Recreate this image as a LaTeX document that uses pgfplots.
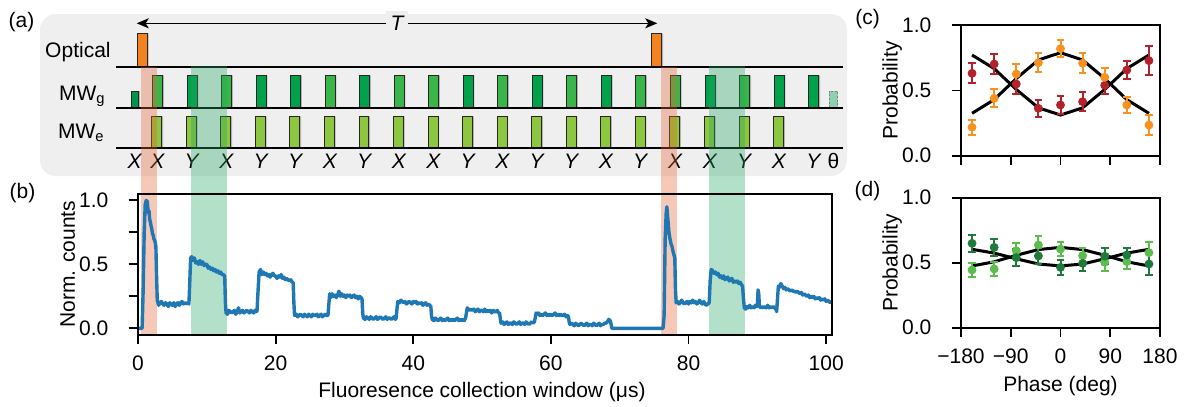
\documentclass[border=0pt]{standalone}
\usepackage{pgfplots}
\pgfplotsset{compat=1.18}
\usepackage{fontspec}
\setmainfont{Liberation Sans}
\usetikzlibrary{arrows.meta}
\definecolor{bgbox}{RGB}{239,239,239}
\definecolor{optorange}{HTML}{F58220}
\definecolor{mwdark}{HTML}{00A14B}
\definecolor{mwmed}{HTML}{3AB54A}
\definecolor{mwshort}{HTML}{00964A}
\definecolor{mwe}{HTML}{8DC63F}
\definecolor{thetafill}{HTML}{8FD0B0}
\definecolor{bandred}{RGB}{229,98,49}
\definecolor{bandgreen}{RGB}{38,166,98}
\definecolor{tabblue}{HTML}{1F77B4}
\definecolor{cred}{HTML}{B3222A}
\definecolor{corange}{HTML}{F7921E}
\definecolor{ddark}{HTML}{1E7B3C}
\definecolor{dlight}{HTML}{5BBD4B}
\newcommand\fs{\fontsize{10.5}{12.5}\selectfont}
\pgfplotsset{
  every axis/.append style={font=\fs},
  /pgf/number format/assume math mode=true,
  mainax/.style={scale only axis, anchor=south west,
    axis line style={line width=0.9pt},
    tick align=outside, tick pos=left, major tick length=4.65pt,
    tick style={black, line width=0.9pt},
    xticklabel style={anchor=base, yshift=-13.05pt},
    yticklabel style={anchor=east, inner sep=0pt, xshift=-10pt},
  },
  rowax/.style={scale only axis, anchor=south west, width=346.85pt, height=20pt,
    xmin=0, xmax=100.8, ymin=0, ymax=40, clip=false},
  ebar/.style={only marks, mark=*, mark size=2pt,
    error bars/.cd, y dir=both, y explicit, error bar style={line width=1pt},
    error mark=-, error mark options={rotate=90, line width=1pt, mark size=1.9pt}},
}
\begin{document}
\begin{tikzpicture}
\useasboundingbox (0,0) rectangle (592.5pt,-203.5pt);
% grey background of panel (a)
\fill[bgbox, rounded corners=8pt] (20pt,-7pt) rectangle (423.5pt,-88pt);
% period arrow
\draw[line width=0.6pt, {Stealth[length=6pt,width=5pt,inset=1.5pt]}-{Stealth[length=6pt,width=5pt,inset=1.5pt]}] (68.35pt,-11.65pt) -- (328.65pt,-11.65pt);
\node[fill=bgbox, inner sep=2.5pt, font=\fs\itshape] at (198.5pt,-11.65pt) {T};
% row labels
\node[anchor=base east, inner sep=0pt, font=\fs] at (55.5pt,-28.65pt) {Optical};
\node[anchor=base east, inner sep=0pt, font=\fs] at (53pt,-50pt) {MW\textsubscript{g}};
\node[anchor=base east, inner sep=0pt, font=\fs] at (52.5pt,-69.15pt) {MW\textsubscript{e}};
% panel labels
\node[font=\fs] at (10.75pt,-11.25pt) {(a)};
\node[font=\fs] at (11.25pt,-96.5pt) {(b)};
\node[font=\fs] at (433.75pt,-9.5pt) {(c)};
\node[font=\fs] at (433.75pt,-95.5pt) {(d)};
% axis titles
\node[anchor=base, inner sep=0pt, font=\fs] at (241pt,-198.85pt) {Fluoresence collection window (μs)};
\node[anchor=base, inner sep=0pt, rotate=90, font=\fs] at (37.5pt,-132.1pt) {Norm. counts};
\node[anchor=base, inner sep=0pt, rotate=90, font=\fs] at (448.75pt,-45.25pt) {Probability};
\node[anchor=base, inner sep=0pt, rotate=90, font=\fs] at (448.75pt,-131.35pt) {Probability};
\node[anchor=base, inner sep=0pt, font=\fs] at (530.25pt,-195.85pt) {Phase (deg)};

% ---------- Optical row
\begin{axis}[rowax, hide axis, at={(69pt,-33.35pt)}]
\addplot[ybar, bar shift=0.6pt, bar width=1.5, fill=black, fill opacity=0.25, draw=none] coordinates {(0.61,33) (75.39,33)};
\addplot[ybar, bar shift=0pt, bar width=1.5, fill=optorange, draw=black!85, line width=0.5pt] coordinates {(0.61,33) (75.39,33)};
\addplot[black, line width=1pt] coordinates {(-3.2,0) (102.47,0)};
\end{axis}

% ---------- MW_g row
\begin{axis}[rowax, hide axis, at={(69pt,-53.85pt)}]
\addplot[ybar, bar shift=0.6pt, bar width=1.45, fill=black, fill opacity=0.25, draw=none] coordinates {
(2.85,32.4) (7.87,32.4) (12.88,32.4) (17.90,32.4) (22.91,32.4) (27.93,32.4) (32.94,32.4) (37.96,32.4) (42.97,32.4) (47.99,32.4)
(53.00,32.4) (58.02,32.4) (63.03,32.4) (68.05,32.4) (73.06,32.4) (78.08,32.4) (83.15,32.4) (88.18,32.4) (93.18,32.4) (98.22,32.4)};
\addplot[ybar, bar shift=0.6pt, bar width=1.1, fill=black, fill opacity=0.25, draw=none] coordinates {(-0.44,16.7)};
\addplot[ybar, bar shift=0pt, bar width=1.45, fill=mwmed, draw=black!85, line width=0.5pt] coordinates {
(2.85,32.4) (12.88,32.4) (27.93,32.4) (37.96,32.4) (42.97,32.4) (53.00,32.4) (63.03,32.4) (73.06,32.4) (78.08,32.4) (88.18,32.4)};
\addplot[ybar, bar shift=0pt, bar width=1.45, fill=mwdark, draw=black!85, line width=0.5pt] coordinates {
(7.87,32.4) (17.90,32.4) (22.91,32.4) (32.94,32.4) (47.99,32.4) (58.02,32.4) (68.05,32.4) (83.15,32.4) (93.18,32.4) (98.22,32.4)};
\addplot[ybar, bar shift=0pt, bar width=1.1, fill=mwshort, draw=black!85, line width=0.5pt] coordinates {(-0.44,16.7)};
\addplot[ybar, bar shift=0pt, bar width=1.2, fill=thetafill, draw=gray, dash pattern=on 1pt off 0.8pt, line width=0.5pt] coordinates {(101.05,16.4)};
\addplot[black, line width=1pt] coordinates {(-3.2,0) (102.47,0)};
\end{axis}

% ---------- MW_e row (with pulse-phase labels); same scale, wider range so that all labels show
\begin{axis}[rowax, at={(51.795pt,-74.15pt)}, width=378.51pt, xmin=-5, xmax=105,
  axis x line*=bottom, axis y line=none, axis line style={draw=none},
  tick style={draw=none}, major tick length=0pt, ytick=\empty,
  xtick={-0.44,2.85,7.87,12.88,17.90,22.91,27.93,32.94,37.96,42.97,47.99,53.00,58.02,63.03,68.05,73.06,78.08,83.15,88.18,93.18,98.22,101.05},
  xticklabels={\textit{X},\textit{X},\textit{Y},\textit{X},\textit{Y},\textit{Y},\textit{X},\textit{Y},\textit{X},\textit{X},\textit{Y},\textit{X},\textit{Y},\textit{Y},\textit{X},\textit{Y},\textit{X},\textit{X},\textit{Y},\textit{X},\textit{Y},θ},
  xticklabel style={anchor=base, yshift=-10pt}]
\addplot[ybar, bar shift=0.6pt, bar width=1.45, fill=black, fill opacity=0.25, draw=none] coordinates {
(2.75,32) (7.77,32) (12.78,32) (17.80,32) (22.81,32) (27.83,32) (32.84,32) (37.86,32) (42.87,32) (47.89,32)
(52.90,32) (57.92,32) (62.93,32) (67.95,32) (72.96,32) (77.98,32) (83.05,32) (88.08,32) (93.08,32)};
\addplot[ybar, bar shift=0pt, bar width=1.45, fill=mwe, draw=black!85, line width=0.5pt] coordinates {
(2.75,32) (7.77,32) (12.78,32) (17.80,32) (22.81,32) (27.83,32) (32.84,32) (37.86,32) (42.87,32) (47.89,32)
(52.90,32) (57.92,32) (62.93,32) (67.95,32) (72.96,32) (77.98,32) (83.05,32) (88.08,32) (93.08,32)};
\addplot[black, line width=1pt] coordinates {(-3.2,0) (102.47,0)};
\end{axis}

% ---------- panel (b)
\begin{axis}[mainax, at={(69pt,-167.35pt)}, width=346.85pt, height=70.35pt,
  xmin=0, xmax=100.8, ymin=-0.05, ymax=1.05, clip=false, axis on top,
  xtick={0,20,40,60,80,100}, ytick={0,0.25,0.5,0.75,1}, yticklabels={0.0,,0.5,,1.0}]
\addplot[fill=bandred, fill opacity=0.35, draw=none] coordinates {(0.48,-0.05) (2.72,-0.05) (2.72,2.045) (0.48,2.045)} -- cycle;
\addplot[fill=bandred, fill opacity=0.35, draw=none] coordinates {(76.0,-0.05) (78.3,-0.05) (78.3,2.045) (76.0,2.045)} -- cycle;
\addplot[fill=bandgreen, fill opacity=0.35, draw=none] coordinates {(7.7,-0.05) (12.9,-0.05) (12.9,2.053) (7.7,2.053)} -- cycle;
\addplot[fill=bandgreen, fill opacity=0.35, draw=none] coordinates {(83.0,-0.05) (88.2,-0.05) (88.2,2.053) (83.0,2.053)} -- cycle;
\addplot[tabblue, line width=1.7pt, line join=round] coordinates {
(0,0) (0.6,0) (0.75,0.3) (0.9,0.75) (1.05,0.97) (1.2,1.0) (1.35,0.99) (1.5,0.9) (1.6,0.92) (1.7,0.85) (1.8,0.83) (1.9,0.8) (2.0,0.78) (2.1,0.74) (2.2,0.73) (2.3,0.7) (2.4,0.69) (2.5,0.67) (2.6,0.64) (2.7,0.4) (2.8,0.22)
(3.0,0.18) (3.2,0.2) (3.4,0.21) (3.6,0.19) (3.8,0.18) (4.0,0.2) (4.2,0.19) (4.4,0.17) (4.6,0.2) (4.8,0.19) (5.0,0.18) (5.2,0.2) (5.4,0.17) (5.6,0.19) (5.8,0.2) (6.0,0.18) (6.2,0.2) (6.4,0.21) (6.6,0.19) (6.8,0.2) (7.0,0.19) (7.2,0.2) (7.4,0.19)
(7.55,0.4) (7.65,0.55) (7.8,0.56) (8.0,0.53) (8.2,0.55) (8.4,0.51) (8.6,0.52) (8.8,0.5) (9.0,0.53) (9.2,0.5) (9.4,0.52) (9.6,0.49) (9.8,0.5) (10.0,0.5) (10.2,0.47) (10.4,0.48) (10.6,0.46) (10.8,0.47) (11.0,0.45) (11.2,0.46) (11.4,0.44) (11.6,0.45) (11.8,0.43) (12.0,0.44) (12.2,0.42) (12.4,0.42) (12.6,0.41) (12.7,0.2) (12.8,0.12)
(13.0,0.11) (13.2,0.14) (13.4,0.13) (13.6,0.12) (13.8,0.13) (14.0,0.14) (14.2,0.11) (14.4,0.13) (14.6,0.16) (14.8,0.12) (15.0,0.13) (15.2,0.14) (15.4,0.12) (15.6,0.13) (15.8,0.14) (16.0,0.13) (16.2,0.12) (16.4,0.14) (16.6,0.13) (16.8,0.12) (17.0,0.14) (17.2,0.13) (17.3,0.14)
(17.45,0.3) (17.6,0.44) (17.8,0.46) (18.0,0.42) (18.2,0.44) (18.4,0.42) (18.6,0.43) (18.8,0.41) (19.0,0.42) (19.2,0.4) (19.4,0.42) (19.6,0.43) (19.8,0.41) (20.0,0.41) (20.2,0.39) (20.4,0.41) (20.6,0.4) (20.8,0.42) (21.0,0.39) (21.2,0.4) (21.4,0.38) (21.6,0.39) (21.8,0.38) (22.0,0.37) (22.2,0.38) (22.4,0.36) (22.55,0.36) (22.65,0.2) (22.75,0.1)
(23.0,0.11) (23.2,0.09) (23.4,0.1) (23.6,0.11) (23.8,0.1) (24.0,0.09) (24.2,0.11) (24.4,0.1) (24.6,0.09) (24.8,0.11) (25.0,0.1) (25.2,0.09) (25.4,0.11) (25.6,0.1) (25.8,0.1) (26.0,0.11) (26.2,0.09) (26.4,0.1) (26.6,0.11) (26.8,0.09) (27.0,0.1) (27.2,0.11) (27.4,0.1) (27.6,0.1)
(27.75,0.2) (27.85,0.27) (28.0,0.24) (28.2,0.27) (28.4,0.25) (28.6,0.26) (28.8,0.24) (29.0,0.26) (29.2,0.29) (29.4,0.25) (29.6,0.27) (29.8,0.25) (30.0,0.26) (30.2,0.24) (30.4,0.26) (30.6,0.25) (30.8,0.26) (31.0,0.24) (31.2,0.25) (31.4,0.26) (31.6,0.24) (31.8,0.25) (32.0,0.23) (32.2,0.25) (32.4,0.24) (32.55,0.23) (32.65,0.12) (32.75,0.08)
(33.0,0.07) (33.2,0.09) (33.4,0.08) (33.6,0.07) (33.8,0.09) (34.0,0.08) (34.2,0.07) (34.4,0.08) (34.6,0.09) (34.8,0.07) (35.0,0.08) (35.2,0.09) (35.4,0.08) (35.6,0.07) (35.8,0.08) (36.0,0.09) (36.2,0.07) (36.4,0.08) (36.6,0.08) (36.8,0.07) (37.0,0.08) (37.2,0.09) (37.4,0.07) (37.5,0.08)
(37.65,0.16) (37.75,0.21) (38.0,0.2) (38.2,0.22) (38.4,0.21) (38.6,0.2) (38.8,0.21) (39.0,0.19) (39.2,0.2) (39.4,0.21) (39.6,0.2) (39.8,0.19) (40.0,0.21) (40.2,0.2) (40.4,0.21) (40.6,0.19) (40.8,0.2) (41.0,0.19) (41.2,0.2) (41.4,0.18) (41.6,0.19) (41.8,0.2) (42.0,0.18) (42.2,0.19) (42.4,0.18) (42.55,0.17) (42.65,0.1) (42.75,0.07)
(43.0,0.06) (43.2,0.08) (43.4,0.07) (43.6,0.06) (43.8,0.07) (44.0,0.08) (44.2,0.06) (44.4,0.07) (44.6,0.06) (44.8,0.07) (45.0,0.08) (45.2,0.06) (45.4,0.07) (45.6,0.06) (45.8,0.07) (46.0,0.06) (46.2,0.07) (46.4,0.08) (46.6,0.06) (46.8,0.07) (47.0,0.06) (47.2,0.07) (47.4,0.06) (47.6,0.08)
(47.75,0.13) (47.85,0.16) (48.0,0.15) (48.2,0.14) (48.4,0.15) (48.6,0.14) (48.8,0.15) (49.0,0.13) (49.2,0.14) (49.4,0.15) (49.6,0.13) (49.8,0.14) (50.0,0.14) (50.2,0.13) (50.4,0.15) (50.6,0.13) (50.8,0.14) (51.0,0.13) (51.2,0.14) (51.4,0.12) (51.6,0.14) (51.8,0.13) (52.0,0.13) (52.2,0.14) (52.4,0.12) (52.55,0.12) (52.65,0.07) (52.75,0.04)
(53.0,0.05) (53.2,0.03) (53.4,0.04) (53.6,0.05) (53.8,0.03) (54.0,0.04) (54.2,0.04) (54.4,0.03) (54.6,0.05) (54.8,0.04) (55.0,0.03) (55.2,0.04) (55.4,0.05) (55.6,0.03) (55.8,0.04) (56.0,0.04) (56.2,0.03) (56.4,0.05) (56.6,0.04) (56.8,0.03) (57.0,0.04) (57.2,0.05) (57.4,0.04) (57.6,0.05)
(57.75,0.09) (57.85,0.12) (58.0,0.11) (58.2,0.12) (58.4,0.1) (58.6,0.11) (58.8,0.1) (59.0,0.11) (59.2,0.12) (59.4,0.1) (59.6,0.11) (59.8,0.1) (60.0,0.11) (60.2,0.1) (60.4,0.11) (60.6,0.12) (60.8,0.1) (61.0,0.11) (61.2,0.1) (61.4,0.11) (61.6,0.1) (61.8,0.1) (62.0,0.11) (62.2,0.09) (62.4,0.1) (62.55,0.09) (62.65,0.05) (62.75,0.03)
(63.0,0.04) (63.2,0.03) (63.4,0.02) (63.6,0.04) (63.8,0.03) (64.0,0.02) (64.2,0.03) (64.4,0.04) (64.6,0.03) (64.8,0.02) (65.0,0.03) (65.2,0.04) (65.4,0.02) (65.6,0.03) (65.8,0.03) (66.0,0.02) (66.2,0.04) (66.4,0.03) (66.6,0.02) (66.8,0.03) (67.0,0.04) (67.2,0.02) (67.4,0.03) (67.6,0.03) (67.8,0.04) (68.0,0.04) (68.2,0.05) (68.4,0.07) (68.6,0.06) (68.75,0.03) (68.85,0.0)
(69.0,0.0) (76.3,0.0)
(76.45,0.1) (76.6,0.7) (76.75,0.9) (76.85,0.95) (76.95,0.88) (77.05,0.82) (77.15,0.75) (77.3,0.7) (77.45,0.66) (77.6,0.64) (77.75,0.6) (77.9,0.57) (78.0,0.55) (78.1,0.3) (78.2,0.2)
(78.4,0.21) (78.6,0.19) (78.8,0.2) (79.0,0.22) (79.2,0.2) (79.4,0.19) (79.6,0.2) (79.8,0.21) (80.0,0.19) (80.2,0.21) (80.4,0.2) (80.6,0.22) (80.8,0.2) (81.0,0.21) (81.2,0.19) (81.4,0.2) (81.6,0.22) (81.8,0.2) (82.0,0.19) (82.2,0.21) (82.4,0.19) (82.6,0.18) (82.8,0.19) (83.0,0.2)
(83.15,0.38) (83.3,0.46) (83.5,0.45) (83.7,0.43) (83.9,0.44) (84.1,0.42) (84.3,0.43) (84.5,0.4) (84.7,0.41) (84.9,0.39) (85.1,0.41) (85.3,0.38) (85.5,0.39) (85.7,0.4) (85.9,0.37) (86.1,0.38) (86.3,0.39) (86.5,0.36) (86.7,0.37) (86.9,0.36) (87.1,0.37) (87.3,0.35) (87.5,0.36) (87.7,0.34) (87.85,0.33) (87.95,0.25) (88.1,0.16)
(88.3,0.15) (88.5,0.17) (88.7,0.16) (88.9,0.18) (89.1,0.16) (89.3,0.17) (89.5,0.16) (89.7,0.18) (89.9,0.17) (90.0,0.18) (90.1,0.3) (90.2,0.27) (90.3,0.17) (90.5,0.16) (90.7,0.17) (90.9,0.16) (91.1,0.17) (91.3,0.16) (91.5,0.18) (91.7,0.16) (91.9,0.17) (92.1,0.16) (92.3,0.17) (92.5,0.16) (92.7,0.15) (92.8,0.13)
(92.95,0.25) (93.05,0.33) (93.2,0.32) (93.4,0.35) (93.6,0.33) (93.8,0.31) (94.0,0.32) (94.2,0.3) (94.4,0.31) (94.6,0.3) (94.8,0.29) (95.0,0.3) (95.2,0.29) (95.4,0.29) (95.6,0.28) (95.8,0.29) (96.0,0.28) (96.2,0.27) (96.4,0.28) (96.6,0.26) (96.8,0.27) (97.0,0.26) (97.2,0.25) (97.4,0.26) (97.6,0.24) (97.8,0.25) (98.0,0.24) (98.2,0.25) (98.4,0.23) (98.6,0.24) (98.8,0.23) (99.0,0.24) (99.2,0.22) (99.4,0.23) (99.6,0.22) (99.8,0.23) (100.0,0.21) (100.2,0.22) (100.4,0.21) (100.6,0.2) (100.8,0.21)
};
\end{axis}

% ---------- panel (c)
\begin{axis}[mainax, at={(480.5pt,-77.85pt)}, width=99.5pt, height=65.2pt,
  xmin=-180, xmax=180, ymin=0, ymax=1,
  xtick={-180,-90,0,90,180}, xticklabels={}, ytick={0,0.5,1}, yticklabels={0.0,0.5,1.0}]
\addplot[black, line width=1.5pt] coordinates {(-160,0.772) (-120,0.668) (-80,0.508) (-40,0.367) (0,0.312) (40,0.367) (80,0.508) (120,0.668) (160,0.772)};
\addplot[black, line width=1.5pt] coordinates {(-160,0.325) (-120,0.430) (-80,0.592) (-40,0.734) (0,0.790) (40,0.734) (80,0.592) (120,0.430) (160,0.325)};
\addplot[color=cred, ebar] table[x=x, y=y, y error=e] {
x y e
-160 0.632 0.077
-120 0.703 0.077
-80 0.550 0.077
-40 0.363 0.063
0 0.389 0.066
40 0.414 0.075
80 0.540 0.066
120 0.657 0.072
160 0.729 0.112
};
\addplot[color=corange, ebar] table[x=x, y=y, y error=e] {
x y e
-160 0.218 0.058
-120 0.440 0.069
-80 0.627 0.077
-40 0.713 0.074
0 0.821 0.066
40 0.709 0.077
80 0.601 0.070
120 0.389 0.061
160 0.235 0.080
};
\end{axis}

% ---------- panel (d)
\begin{axis}[mainax, at={(480.5pt,-163.85pt)}, width=99.5pt, height=65pt,
  xmin=-180, xmax=180, ymin=0, ymax=1,
  xtick={-180,-90,0,90,180}, xticklabels={−180,−90,0,90,180}, ytick={0,0.5,1}, yticklabels={0.0,0.5,1.0}]
\addplot[black, line width=1.5pt] coordinates {(-160,0.603) (-120,0.574) (-80,0.530) (-40,0.490) (0,0.475) (40,0.490) (80,0.530) (120,0.574) (160,0.603)};
\addplot[black, line width=1.5pt] coordinates {(-160,0.475) (-120,0.507) (-80,0.557) (-40,0.601) (0,0.618) (40,0.601) (80,0.557) (120,0.507) (160,0.475)};
\addplot[color=dlight, ebar] table[x=x, y=y, y error=e] {
x y e
-160 0.444 0.054
-120 0.452 0.055
-80 0.592 0.062
-40 0.636 0.073
0 0.605 0.055
40 0.554 0.058
80 0.503 0.064
120 0.508 0.055
160 0.577 0.085
};
\addplot[color=ddark, ebar] table[x=x, y=y, y error=e] {
x y e
-160 0.649 0.067
-120 0.618 0.064
-80 0.539 0.067
-40 0.552 0.060
0 0.464 0.055
40 0.495 0.060
80 0.550 0.060
120 0.559 0.055
160 0.490 0.088
};
\end{axis}
\end{tikzpicture}
\end{document}
